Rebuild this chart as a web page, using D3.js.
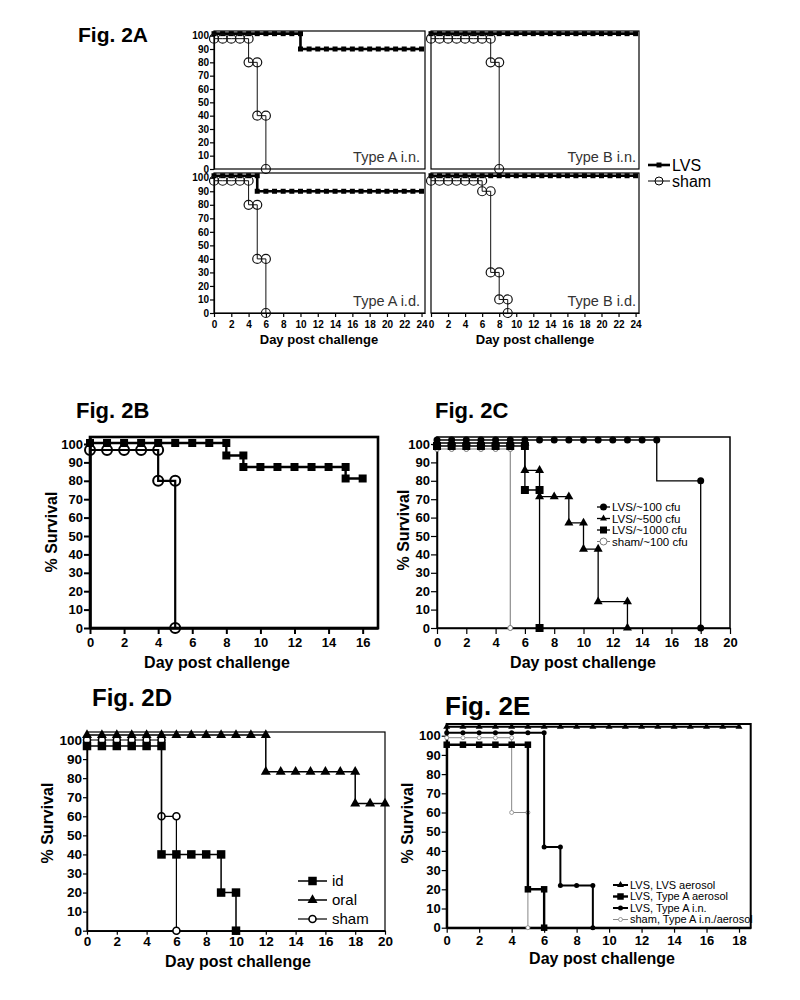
<!DOCTYPE html>
<html>
<head>
<meta charset="utf-8">
<script src="https://cdnjs.cloudflare.com/ajax/libs/d3/7.8.5/d3.min.js"></script>
<style>
  body { margin: 0; background: #fff; }
  text { font-family: "Liberation Sans", Arial, sans-serif; }
</style>
</head>
<body>
<div id="fig"></div>
<script>
// ---- tick labels ----
const pctTicks = [0, 10, 20, 30, 40, 50, 60, 70, 80, 90, 100];
const dayTicks24 = [0, 2, 4, 6, 8, 10, 12, 14, 16, 18, 20, 22, 24];
const dayTicks16 = [0, 2, 4, 6, 8, 10, 12, 14, 16];
const dayTicks20 = [0, 2, 4, 6, 8, 10, 12, 14, 16, 18, 20];
const dayTicks18 = [0, 2, 4, 6, 8, 10, 12, 14, 16, 18];

// ---- Fig 2A  [day, % survival] ----
const a_in_lvs = [[0,100],[1,100],[2,100],[3,100],[4,100],[5,100],[6,100],[7,100],[8,100],[9,100],[10,100],
  [10,90],[11,90],[12,90],[13,90],[14,90],[15,90],[16,90],[17,90],[18,90],[19,90],[20,90],[21,90],[22,90],[23,90],[24,90]];
const a_in_sham = [[0,100],[1,100],[2,100],[3,100],[4,100],[4,80],[5,80],[5,40],[6,40],[6,0]];
const b_in_lvs = [[0,100],[1,100],[2,100],[3,100],[4,100],[5,100],[6,100],[7,100],[8,100],[9,100],[10,100],[11,100],[12,100],
  [13,100],[14,100],[15,100],[16,100],[17,100],[18,100],[19,100],[20,100],[21,100],[22,100],[23,100],[24,100]];
const b_in_sham = [[0,100],[1,100],[2,100],[3,100],[4,100],[5,100],[6,100],[7,100],[7,80],[8,80],[8,0]];
const a_id_lvs = [[0,100],[1,100],[2,100],[3,100],[4,100],[5,100],
  [5,90],[6,90],[7,90],[8,90],[9,90],[10,90],[11,90],[12,90],[13,90],[14,90],[15,90],[16,90],[17,90],[18,90],[19,90],[20,90],[21,90],[22,90],[23,90],[24,90]];
const a_id_sham = [[0,100],[1,100],[2,100],[3,100],[4,100],[4,80],[5,80],[5,40],[6,40],[6,0]];
const b_id_lvs = [[0,100],[1,100],[2,100],[3,100],[4,100],[5,100],[6,100],[7,100],[8,100],[9,100],[10,100],[11,100],[12,100],
  [13,100],[14,100],[15,100],[16,100],[17,100],[18,100],[19,100],[20,100],[21,100],[22,100],[23,100],[24,100]];
const b_id_sham = [[0,100],[1,100],[2,100],[3,100],[4,100],[5,100],[6,100],[6,90],[7,90],[7,30],[8,30],[8,10],[9,10],[9,0]];

// ---- Fig 2B ----
const b_lvs = [[0,100],[1,100],[2,100],[3,100],[4,100],[5,100],[6,100],[7,100],[8,100],[8,93.75],[9,93.75],
  [9,87.5],[10,87.5],[11,87.5],[12,87.5],[13,87.5],[14,87.5],[15,87.5],[15,81.25],[16,81.25]];
const b_sham = [[0,100],[1,100],[2,100],[3,100],[4,100],[4,80],[5,80],[5,0]];

// ---- Fig 2C ----
const c_lvs100 = [[0,100],[1,100],[2,100],[3,100],[4,100],[5,100],[6,100],[7,100],[8,100],[9,100],[10,100],
  [11,100],[12,100],[13,100],[14,100],[15,100],[18,80],[18,0]];
const c_lvs500 = [[0,100],[1,100],[2,100],[3,100],[4,100],[5,100],[6,100],[6,85.7],[7,85.7],[7,71.4],[8,71.4],[9,71.4],
  [9,57.1],[10,57.1],[10,42.9],[11,42.9],[11,14.3],[13,14.3],[13,0]];
const c_lvs1000 = [[0,100],[1,100],[2,100],[3,100],[4,100],[5,100],[6,100],[6,75],[7,75],[7,0]];
const c_sham = [[0,100],[1,100],[2,100],[3,100],[4,100],[5,100],[5,0]];

// ---- Fig 2D ----
const d_id = [[0,100],[1,100],[2,100],[3,100],[4,100],[5,100],[5,40],[6,40],[7,40],[8,40],[9,40],[9,20],[10,20],[10,0]];
const d_oral = [[0,100],[1,100],[2,100],[3,100],[4,100],[5,100],[6,100],[7,100],[8,100],[9,100],[10,100],[11,100],[12,100],
  [12,83.3],[13,83.3],[14,83.3],[15,83.3],[16,83.3],[17,83.3],[18,83.3],[18,66.7],[19,66.7],[20,66.7]];
const d_sham = [[0,100],[1,100],[2,100],[3,100],[4,100],[5,100],[5,60],[6,60],[6,0]];

// ---- Fig 2E ----
const e_lvsAero = [[0,100],[1,100],[2,100],[3,100],[4,100],[5,100],[6,100],[7,100],[8,100],[9,100],[10,100],
  [11,100],[12,100],[13,100],[14,100],[15,100],[16,100],[17,100],[18,100]];
const e_typeAaero = [[0,100],[1,100],[2,100],[3,100],[4,100],[5,100],[5,20],[6,20],[6,0]];
const e_typeAin = [[0,100],[1,100],[2,100],[3,100],[4,100],[5,100],[6,100],[6,42],[7,42],[7,22],[8,22],[9,22],[9,0]];
const e_sham = [[0,100],[1,100],[2,100],[3,100],[4,100],[4,60],[5,60],[5,0]];

// ---- drawing ----
const svg = d3.select("#fig").append("svg")
  .attr("width", 800)
  .attr("height", 1000);

function marker(shape, s) {
  if (shape === "square") return d3.symbol().type(d3.symbolSquare).size(s * s)();
  if (shape === "triangle") return d3.symbol().type(d3.symbolTriangle).size(Math.sqrt(3) / 4 * s * s)();
  return d3.symbol().type(d3.symbolCircle).size(Math.PI * s * s / 4)();
}

function drawSeries(g, x, y, data, st) {
  const py = d => y(d[1]) + (d[1] === 100 ? (st.nudge || 0) : 0);
  const line = d3.line().x(d => x(d[0])).y(py).curve(d3.curveStepBefore);
  g.append("path")
    .attr("d", line(data))
    .attr("fill", "none")
    .attr("stroke", st.color || "#000")
    .attr("stroke-width", st.lw);
  g.selectAll(null)
    .data(data)
    .join("path")
      .attr("d", marker(st.shape, st.size))
      .attr("transform", d => `translate(${x(d[0])},${py(d)})`)
      .attr("fill", st.open ? (st.openFill || "none") : (st.color || "#000"))
      .attr("stroke", st.color || "#000")
      .attr("stroke-width", st.open ? st.mw : 0);
}

function panel(p) {
  const x = d3.scaleLinear().domain(p.xDomain).range([p.left, p.right]);
  const y = d3.scaleLinear().domain(p.yDomain).range([p.bottom, p.top]);
  const g = svg.append("g");

  g.append("rect")
    .attr("x", p.left).attr("y", p.top)
    .attr("width", p.right - p.left).attr("height", p.bottom - p.top)
    .attr("fill", "none").attr("stroke", "#000").attr("stroke-width", p.boxW);

  if (p.yTicks) {
    const ya = g.append("g")
      .attr("transform", `translate(${p.left},0)`)
      .call(d3.axisLeft(y).tickValues(p.yTicks).tickSize(p.tick).tickSizeOuter(0).tickPadding(p.pad));
    ya.select(".domain").attr("stroke-width", p.axisW);
    ya.selectAll(".tick line").attr("stroke-width", p.tickW || 1.2);
    ya.selectAll("text").attr("font-size", p.yFont).attr("font-weight", "bold").attr("fill", "#000")
      .style("font-family", '"Liberation Sans", Arial, sans-serif');
  }
  if (p.xTicks) {
    const xa = g.append("g")
      .attr("transform", `translate(0,${p.bottom})`)
      .call(d3.axisBottom(x).tickValues(p.xTicks).tickSize(p.tick).tickSizeOuter(0).tickPadding(p.xpad));
    xa.select(".domain").attr("stroke-width", p.axisW);
    xa.selectAll(".tick line").attr("stroke-width", p.tickW || 1.2);
    xa.selectAll("text").attr("font-size", p.xFont).attr("font-weight", "bold").attr("fill", "#000")
      .style("font-family", '"Liberation Sans", Arial, sans-serif');
  }
  p.series.forEach(s => drawSeries(g, x, y, s.data, s.style));
  return { x, y, g };
}

function label(txt, x, y, size, opts = {}) {
  const t = svg.append("text")
    .attr("x", x).attr("y", y)
    .attr("font-size", size)
    .attr("font-weight", opts.weight || "bold")
    .attr("fill", opts.color || "#000")
    .attr("text-anchor", opts.anchor || "start")
    .text(txt);
  if (opts.rotate) {
    t.attr("x", 0).attr("y", 0).attr("dy", "0.35em")
      .attr("transform", `translate(${x},${y}) rotate(-90)`);
  }
  return t;
}

function legend(rows, x0, x1, tx, size, font) {
  rows.forEach(r => {
    svg.append("line")
      .attr("x1", x0).attr("x2", x1).attr("y1", r.y).attr("y2", r.y)
      .attr("stroke", r.style.color || "#000").attr("stroke-width", r.style.lw);
    svg.append("path")
      .attr("d", marker(r.style.shape, size || r.style.size))
      .attr("transform", `translate(${(x0 + x1) / 2},${r.y})`)
      .attr("fill", r.style.open ? (r.style.openFill || "#fff") : (r.style.color || "#000"))
      .attr("stroke", r.style.color || "#000")
      .attr("stroke-width", r.style.open ? r.style.mw : 0);
    svg.append("text")
      .attr("x", tx).attr("y", r.y).attr("dy", "0.35em")
      .attr("font-size", font)
      .attr("fill", "#000")
      .text(r.label);
  });
}

// styles
const sA_lvs = { shape: "square", size: 5, lw: 2.6, nudge: -2 };
const sA_sham = { shape: "circle", size: 9, open: true, mw: 1.2, lw: 1, nudge: 3, color: "#111" };

// ---- Fig 2A ----
label("Fig. 2A", 78, 42, 21);
const aCommon = { xDomain: [0, 24.4], yDomain: [0, 103.5], boxW: 1.2, axisW: 1.2, tick: 4, pad: 1, xpad: 4, yFont: 10, xFont: 10 };
panel(Object.assign({}, aCommon, { left: 214, right: 425, top: 31, bottom: 169, yTicks: pctTicks,
  series: [{ data: a_in_lvs, style: sA_lvs }, { data: a_in_sham, style: sA_sham }] }));
panel(Object.assign({}, aCommon, { left: 431, right: 639, top: 31, bottom: 169,
  series: [{ data: b_in_lvs, style: sA_lvs }, { data: b_in_sham, style: sA_sham }] }));
panel(Object.assign({}, aCommon, { left: 214, right: 425, top: 173, bottom: 313, yTicks: pctTicks, xTicks: dayTicks24,
  series: [{ data: a_id_lvs, style: sA_lvs }, { data: a_id_sham, style: sA_sham }] }));
panel(Object.assign({}, aCommon, { left: 431, right: 639, top: 173, bottom: 313, xTicks: dayTicks24,
  series: [{ data: b_id_lvs, style: sA_lvs }, { data: b_id_sham, style: sA_sham }] }));
label("Type A i.n.", 420, 162, 14.5, { weight: "normal", anchor: "end", color: "#333" });
label("Type B i.n.", 636, 162, 14.5, { weight: "normal", anchor: "end", color: "#333" });
label("Type A i.d.", 420, 306, 14.5, { weight: "normal", anchor: "end", color: "#333" });
label("Type B i.d.", 636, 306, 14.5, { weight: "normal", anchor: "end", color: "#333" });
label("Day post challenge", 319, 344, 13, { anchor: "middle" });
label("Day post challenge", 535, 344, 13, { anchor: "middle" });
legend([
  { label: "LVS", y: 165, style: { shape: "square", size: 5, lw: 2.6 } },
  { label: "sham", y: 181, style: { shape: "circle", size: 8, open: true, mw: 1, lw: 1, openFill: "none" } }
], 648, 670, 672, null, 16);

// ---- Fig 2B ----
label("Fig. 2B", 76, 418, 22);
panel({ left: 90, right: 378, top: 437, bottom: 628, xDomain: [0, 16.9], yDomain: [0, 103.8],
  boxW: 2.6, axisW: 2.6, tick: 6, pad: 1, xpad: 4, yFont: 13, xFont: 13, tickW: 2,
  yTicks: pctTicks, xTicks: dayTicks16,
  series: [
    { data: b_lvs, style: { shape: "square", size: 8, lw: 2.4, nudge: -1 } },
    { data: b_sham, style: { shape: "circle", size: 10, open: true, mw: 2, lw: 2.2, nudge: 6 } }
  ] });
label("% Survival", 51, 532, 16, { anchor: "middle", rotate: true });
label("Day post challenge", 217, 668, 16, { anchor: "middle" });

// ---- Fig 2C ----
label("Fig. 2C", 435, 418, 22);
const sC_100 = { shape: "circle", size: 7, lw: 1.3, nudge: -4 };
const sC_500 = { shape: "triangle", size: 9, lw: 1.3, nudge: -1 };
const sC_1000 = { shape: "square", size: 8, lw: 1.3, nudge: 2 };
const sC_sham = { shape: "circle", size: 5, open: true, mw: 1, lw: 1, color: "#777", openFill: "#fff", nudge: 5 };
panel({ left: 437, right: 730, top: 437, bottom: 628, xDomain: [0, 20], yDomain: [0, 103.8],
  boxW: 1.5, axisW: 1.5, tick: 6, pad: 1, xpad: 4, yFont: 13, xFont: 13,
  yTicks: pctTicks, xTicks: dayTicks20,
  series: [
    { data: c_sham, style: sC_sham },
    { data: c_lvs1000, style: sC_1000 },
    { data: c_lvs500, style: sC_500 },
    { data: c_lvs100, style: sC_100 }
  ] });
label("% Survival", 403, 530, 16, { anchor: "middle", rotate: true });
label("Day post challenge", 583, 668, 16, { anchor: "middle" });
legend([
  { label: "LVS/~100 cfu", y: 507, style: sC_100 },
  { label: "LVS/~500 cfu", y: 518.5, style: sC_500 },
  { label: "LVS/~1000 cfu", y: 530, style: sC_1000 },
  { label: "sham/~100 cfu", y: 541.5, style: sC_sham }
], 597, 610, 612, 7, 11.5);

// ---- Fig 2D ----
label("Fig. 2D", 92, 706, 24);
const sD_id = { shape: "square", size: 8.5, lw: 1.5, nudge: 6 };
const sD_oral = { shape: "triangle", size: 10, lw: 1.5, nudge: -5 };
const sD_sham = { shape: "circle", size: 7, open: true, mw: 1.6, lw: 1.2, openFill: "#fff", nudge: 0 };
panel({ left: 87, right: 385, top: 732, bottom: 930.7, xDomain: [0, 20], yDomain: [0, 104.2],
  boxW: 1.2, axisW: 1.5, tick: 4, pad: 1, xpad: 2, yFont: 13.5, xFont: 13.5,
  yTicks: pctTicks, xTicks: dayTicks20,
  series: [
    { data: d_sham, style: sD_sham },
    { data: d_id, style: sD_id },
    { data: d_oral, style: sD_oral }
  ] });
label("% Survival", 47, 823, 16, { anchor: "middle", rotate: true });
label("Day post challenge", 238, 967, 16, { anchor: "middle" });
legend([
  { label: "id", y: 881, style: sD_id },
  { label: "oral", y: 900, style: sD_oral },
  { label: "sham", y: 919, style: sD_sham }
], 298, 327, 332, null, 15);

// ---- Fig 2E ----
label("Fig. 2E", 445, 715, 26);
const sE_aero = { shape: "triangle", size: 7, lw: 2, nudge: -9 };
const sE_typeAaero = { shape: "square", size: 6.5, lw: 2.4, nudge: 9 };
const sE_typeAin = { shape: "circle", size: 5, lw: 2, nudge: -3 };
const sE_sham = { shape: "circle", size: 4, open: true, mw: 0.8, lw: 1, color: "#888", openFill: "#fff", nudge: 2 };
panel({ left: 446.7, right: 750.7, top: 724, bottom: 927.7, xDomain: [0, 18.72], yDomain: [0, 106.1],
  boxW: 2, axisW: 2, tick: 5, pad: 1, xpad: 3, yFont: 13, xFont: 13,
  yTicks: pctTicks, xTicks: dayTicks18,
  series: [
    { data: e_sham, style: sE_sham },
    { data: e_typeAaero, style: sE_typeAaero },
    { data: e_typeAin, style: sE_typeAin },
    { data: e_lvsAero, style: sE_aero }
  ] });
label("% Survival", 407, 823, 16, { anchor: "middle", rotate: true });
label("Day post challenge", 602, 964, 16, { anchor: "middle" });
legend([
  { label: "LVS, LVS aerosol", y: 885, style: sE_aero },
  { label: "LVS, Type A aerosol", y: 896.5, style: sE_typeAaero },
  { label: "LVS, Type A i.n.", y: 908, style: sE_typeAin },
  { label: "sham, Type A i.n./aerosol", y: 919.5, style: sE_sham }
], 613, 628, 630, null, 11);
</script>
</body>
</html>
